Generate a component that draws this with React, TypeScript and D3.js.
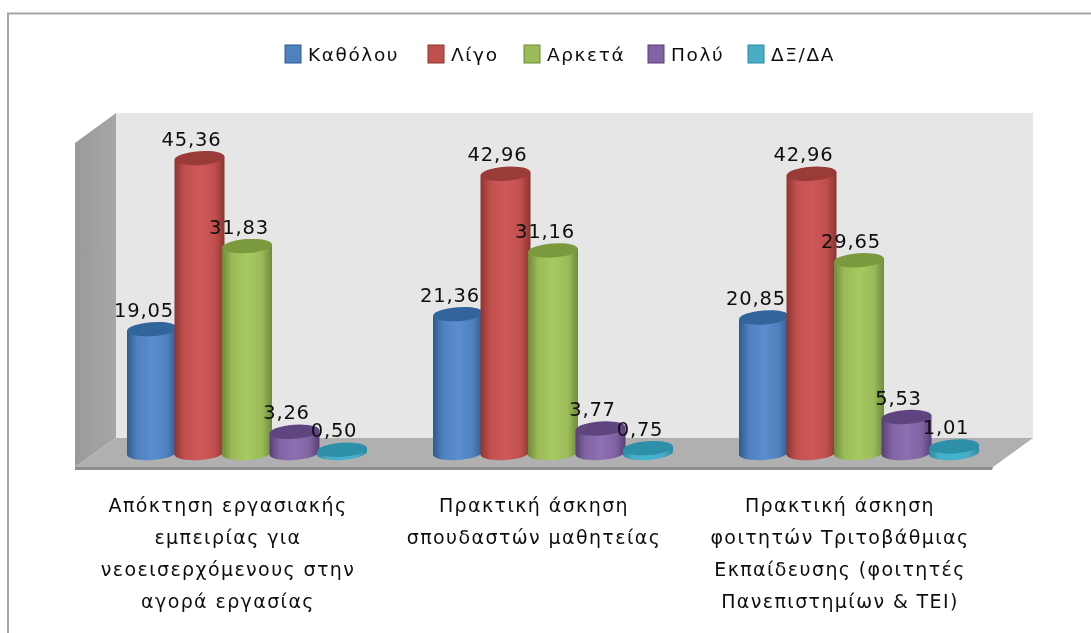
import React from 'react';
import * as d3 from 'd3';

const seriesNames = ['Καθόλου', 'Λίγο', 'Αρκετά', 'Πολύ', 'ΔΞ/ΔΑ'];
const groupKeys = ['a', 'b', 'c'];
const katholou = [19.05, 21.36, 20.85];
const ligo = [45.36, 42.96, 42.96];
const arketa = [31.83, 31.16, 29.65];
const poly = [3.26, 3.77, 5.53];
const dxda = [0.5, 0.75, 1.01];
const seriesValues = [katholou, ligo, arketa, poly, dxda];
const categoryLines = [
  ['Απόκτηση εργασιακής', 'εμπειρίας για', 'νεοεισερχόμενους στην', 'αγορά εργασίας'],
  ['Πρακτική άσκηση', 'σπουδαστών μαθητείας'],
  ['Πρακτική άσκηση', 'φοιτητών Τριτοβάθμιας', 'Εκπαίδευσης (φοιτητές', 'Πανεπιστημίων & ΤΕΙ)'],
];
const fills = ['#4f81bd', '#c0504d', '#9bbb59', '#8064a2', '#4bacc6'];
const mids = ['#5b8dd0', '#d0585a', '#a6c95f', '#8d6fb3', '#3fb4d0'];
const darks = ['#2f5a8f', '#8c3431', '#6f8a3a', '#573f75', '#2a8aa2'];
const tops = ['#30659c', '#9a3a38', '#7a9a3c', '#5e4580', '#2d8fa8'];
const legendOffsets = [0, 143, 239, 363, 463];

const W = 1091, H = 633;
const FONT = '"DejaVu Sans", Verdana, sans-serif';
const x0 = d3.scaleBand().domain(groupKeys).range([94, 1012]);
const y = d3.scaleLinear().domain([0, 50]).range([453, 128]);
const barStep = 47.5, barW = 50, ry = 7, tilt = 1.7;

export default function App() {
  const center = (g: string, s: number) =>
    (x0(g) as number) + x0.bandwidth() / 2 + (s - 2) * barStep;
  return (
    <svg width={W} height={H} viewBox={`0 0 ${W} ${H}`}
      style={{ position: 'absolute', left: 0, top: 0, background: '#fff' }}>
      <defs>
        <filter id="soft" x="-5%" y="-5%" width="110%" height="110%">
          <feGaussianBlur stdDeviation="0.7" />
        </filter>
        <linearGradient id="wallSide" x1="0" x2="1" y1="0" y2="0">
          <stop offset="0" stopColor="#9a9a9a" />
          <stop offset="1" stopColor="#a6a6a6" />
        </linearGradient>
        {fills.map((_, i) => (
          <linearGradient key={i} id={`cyl${i}`} x1="0" x2="1" y1="0" y2="0">
            <stop offset="0" stopColor={darks[i]} />
            <stop offset="0.2" stopColor={fills[i]} />
            <stop offset="0.5" stopColor={mids[i]} />
            <stop offset="0.8" stopColor={fills[i]} />
            <stop offset="1" stopColor={darks[i]} />
          </linearGradient>
        ))}
      </defs>
      <path d={`M8,${H} L8,13.5 L${W},13.5`} fill="none" stroke="#a6a6a6" strokeWidth={2} />
      <g filter="url(#soft)">
        <polygon points="116,113 1033,113 1033,438 116,438" fill="#e6e6e6" />
        <polygon points="75,143 116,113 116,438 75,467" fill="url(#wallSide)" />
        <polygon points="75,467 116,438 1033,438 993,467" fill="#b0b0b0" />
        <polygon points="75,467 993,467 992,470 75,470" fill="#8f8f8f" />
        {seriesNames.map((name, s) => {
          const bx = 285 + legendOffsets[s];
          return (
            <g key={name}>
              <rect x={bx} y={45} width={16} height={18} fill={fills[s]} stroke={darks[s]} strokeWidth={1} />
              <text x={bx + 23} y={60.5} fontFamily={FONT} fontSize={18.5} letterSpacing={1.6} fill="#111">{name}</text>
            </g>
          );
        })}
        {groupKeys.map((g, gi) =>
          seriesNames.map((_, s) => {
            const v = seriesValues[s][gi];
            const cx = center(g, s);
            const top = y(v);
            const r = barW / 2;
            const d = `M${cx - r},${top + tilt} L${cx - r},${y(0) + tilt} A${r},${ry} -4 0 0 ${cx + r},${y(0) - tilt} L${cx + r},${top - tilt} Z`;
            return (
              <g key={`${g}${s}`}>
                <path d={d} fill={`url(#cyl${s})`} />
                <ellipse cx={cx} cy={top} rx={r} ry={ry} fill={tops[s]}
                  transform={`rotate(-4 ${cx} ${top})`} />
              </g>
            );
          })
        )}
        {groupKeys.map((g, gi) =>
          seriesNames.map((_, s) => {
            const v = seriesValues[s][gi];
            return (
              <text key={`${g}${s}`} x={center(g, s) - 8} y={y(v) - 12.5} textAnchor="middle"
                fontFamily={FONT} fontSize={19.5} letterSpacing={0.8} fill="#111">
                {d3.format('.2f')(v).replace('.', ',')}
              </text>
            );
          })
        )}
        {groupKeys.map((g, gi) =>
          categoryLines[gi].map((line, li) => (
            <text key={`${g}${li}`} x={center(g, 2) - 19} y={512 + li * 32} textAnchor="middle"
              fontFamily={FONT} fontSize={19} letterSpacing={1.4} fill="#111">
              {line}
            </text>
          ))
        )}
      </g>
    </svg>
  );
}
